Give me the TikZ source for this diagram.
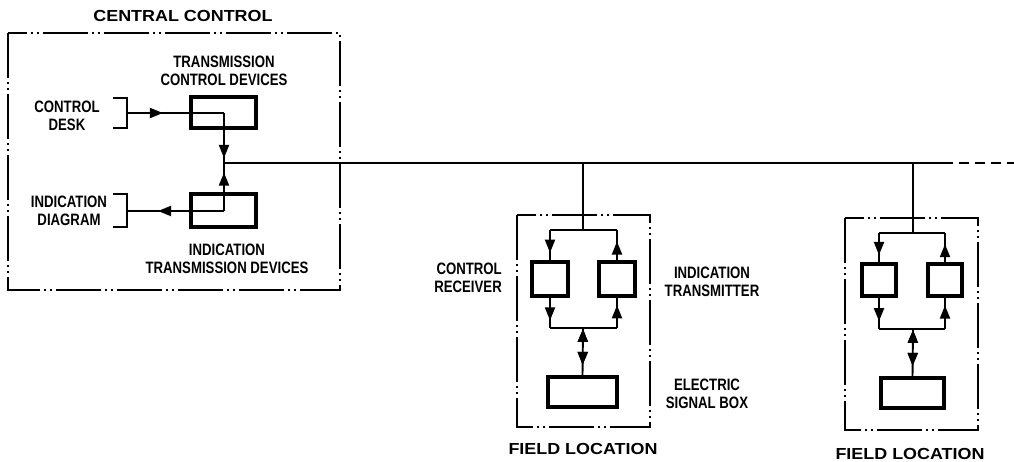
\documentclass[tikz,border=0pt]{standalone}
\usepackage{fontspec}
\setmainfont{Liberation Sans}
\newfontfamily\lblfont{Liberation Sans Bold}[FakeStretch=0.8]
\newfontfamily\ttlfont{Liberation Sans Bold}[FakeStretch=1.12]
\usetikzlibrary{arrows.meta,decorations.markings}
\tikzset{
  blk/.style={draw, line width=3.4pt, inner sep=0pt, minimum width=#1},
  lbl/.style={font=\lblfont\fontsize{16.5}{18.5}\selectfont, align=center, inner sep=0pt},
  ttl/.style={font=\ttlfont\fontsize{16}{18}\selectfont, inner sep=0pt},
  wire/.style={line width=1.9pt},
  frame/.style={line width=1.8pt, dash pattern=on 45pt off 4pt on 2pt off 4pt on 2pt off 4pt},
  tip/.style={Triangle[length=13pt,width=10pt]},
  arrowat/.style={postaction={decorate},decoration={markings,mark=at position #1 with {\arrow{Triangle[length=13pt,width=10pt]}}}},
  rarrowat/.style={postaction={decorate},decoration={markings,mark=at position #1 with {\arrowreversed{Triangle[length=13pt,width=10pt]}}}},
}
\begin{document}
\begin{tikzpicture}[x=1pt,y=-1pt]
\useasboundingbox (0,0) rectangle (1014,462);

% ---------- central control ----------
\node[ttl] (cc) at (183,16) {CENTRAL CONTROL};
\draw[frame] (8,33) rectangle (340,290);

\node[blk=65pt, minimum height=31pt] (tcd) at (223.5,112.5) {};
\node[blk=65pt, minimum height=33pt] (itd) at (223.5,210.5) {};
\node[lbl] (tcdl) at (224,71) {TRANSMISSION\\CONTROL DEVICES};
\node[lbl] (itdl) at (227,259) {INDICATION\\TRANSMISSION DEVICES};

\node[lbl] (desk) at (67,116) {CONTROL\\DESK};
\node[lbl] (diag) at (69,211) {INDICATION\\DIAGRAM};

% brackets
\coordinate (db) at (127,113);
\coordinate (ib) at (127,211);
\draw[wire] (113,98) -- (127,98) -- (127,128) -- (113,128);
\draw[wire] (113,194) -- (127,194) -- (127,227) -- (113,227);

\coordinate (jc) at (224,163);
\coordinate (tin) at (224,113);
\coordinate (iin) at (224,211);
\draw[wire, arrowat=0.37] (db) -- (tin);
\draw[wire, arrowat=0.9] (tin) -- (jc);
\draw[wire, arrowat=0.8] (iin) -- (jc);
\draw[wire, arrowat=0.68] (iin) -- (ib);

% main line
\coordinate (f1t) at (583,163);
\coordinate (f2t) at (913,163);
\coordinate (mend) at (943,163);
\coordinate (mfar) at (1014,163);
\draw[wire] (jc) -- (mend);
\draw[wire, dash pattern=on 10pt off 6pt] (mend) -- (mfar);

% ---------- field location 1 ----------
\draw[frame] (517,215) rectangle (650,427);
\node[blk=36pt, minimum height=34pt] (r1) at (550,279) {};
\node[blk=36pt, minimum height=34pt] (t1) at (617,279) {};
\node[blk=69pt, minimum height=30pt] (s1) at (582.5,392) {};
\coordinate (f1j) at (583,230);
\coordinate (f1b) at (583,328);
\draw[wire] (f1t) -- (f1j);
\draw[wire] (r1.north |- f1j) -- (t1.north |- f1j);
\draw[wire] (r1.south |- f1b) -- (t1.south |- f1b);
\draw[wire, arrowat=0.75] (r1.north |- f1j) -- (r1.north);
\draw[wire, arrowat=0.62] (t1.north) -- (t1.north |- f1j);
\draw[wire, arrowat=0.75] (r1.south) -- (r1.south |- f1b);
\draw[wire, arrowat=0.75] (t1.south |- f1b) -- (t1.south);
\draw[wire, rarrowat=0.02, arrowat=0.78] (f1b) -- (s1.north);

\node[lbl, align=right, anchor=east] (r1l) at (502,278) {CONTROL\\RECEIVER};
\node[lbl] (t1l) at (712,282) {INDICATION\\TRANSMITTER};
\node[lbl] (s1l) at (707,394) {ELECTRIC\\SIGNAL BOX};
\node[ttl] (f1l) at (583,449) {FIELD LOCATION};

% ---------- field location 2 ----------
\draw[frame] (845,218) rectangle (978,430);
\node[blk=34pt, minimum height=32pt] (r2) at (879,280) {};
\node[blk=34pt, minimum height=32pt] (t2) at (945,280) {};
\node[blk=63pt, minimum height=30pt] (s2) at (912.5,393) {};
\coordinate (f2j) at (913,233);
\coordinate (f2b) at (913,329);
\draw[wire] (f2t) -- (f2j);
\draw[wire] (r2.north |- f2j) -- (t2.north |- f2j);
\draw[wire] (r2.south |- f2b) -- (t2.south |- f2b);
\draw[wire, arrowat=0.75] (r2.north |- f2j) -- (r2.north);
\draw[wire, arrowat=0.62] (t2.north) -- (t2.north |- f2j);
\draw[wire, arrowat=0.75] (r2.south) -- (r2.south |- f2b);
\draw[wire, arrowat=0.75] (t2.south |- f2b) -- (t2.south);
\draw[wire, rarrowat=0.02, arrowat=0.78] (f2b) -- (s2.north);
\node[ttl] (f2l) at (910,454) {FIELD LOCATION};
\end{tikzpicture}
\end{document}
